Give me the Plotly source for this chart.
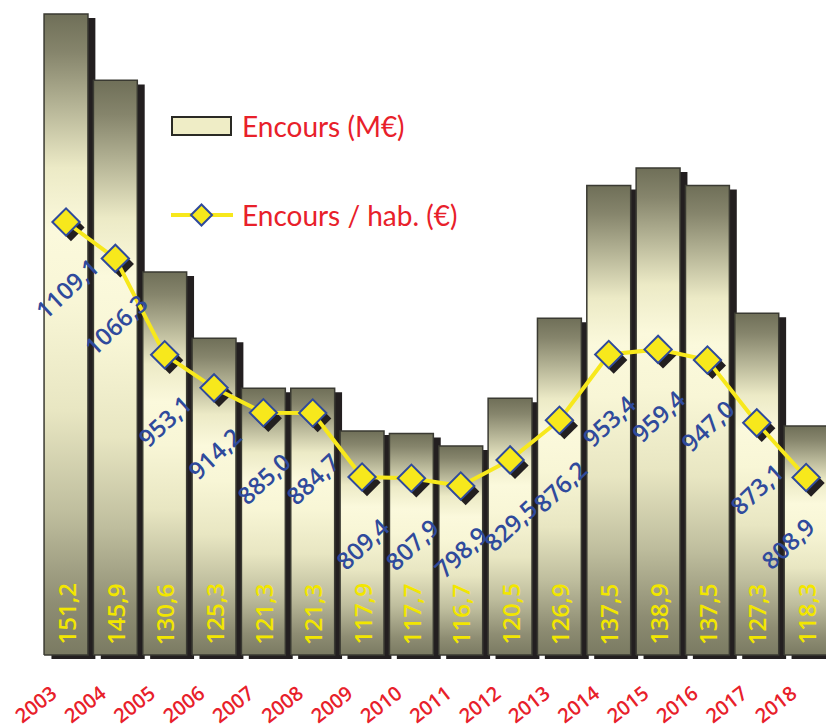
import plotly.graph_objects as go

years = ["2003", "2004", "2005", "2006", "2007", "2008", "2009", "2010",
         "2011", "2012", "2013", "2014", "2015", "2016", "2017", "2018"]
encours = [151.2, 145.9, 130.6, 125.3, 121.3, 121.3, 117.9, 117.7,
           116.7, 120.5, 126.9, 137.5, 138.9, 137.5, 127.3, 118.3]
par_hab = [1109.1, 1066.3, 953.1, 914.2, 885.0, 884.7, 809.4, 807.9,
           798.9, 829.5, 876.2, 953.4, 959.4, 947.0, 873.1, 808.9]

def fr(v):
    return f"{v:.1f}".replace(".", ",")

FIG_W, FIG_H = 826, 728
PL, PB = 0, 661          # plot left / bottom in figure px
PW, PH = FIG_W - PL, PB  # plot width / height

Y_MIN, Y_MAX = 99.52, 152.32
Y2_MIN, Y2_MAX = 593.2, 1370.0
X_MIN, X_MAX = -1.338, 15.403
BASE = 100.0
W = 0.89
SH_DX, SH_DY = 0.15, 0.32   # bar shadow offset (data units)
MS_DX, MS_DY = 0.10, 6.5    # marker shadow offset

bar_scale = [[0.0, "#7a7a62"], [0.08, "#8e8d73"], [0.22, "#bebd9d"],
             [0.38, "#e8e6c2"], [0.55, "#f8f6d6"], [0.66, "#fbf9dc"],
             [0.76, "#eceac6"], [0.86, "#b3b294"], [0.94, "#86856c"],
             [1.0, "#6f6f58"]]

fig = go.Figure()
xs = list(range(len(years)))

# shadows
for i, v in zip(xs, encours):
    x0, x1 = i - W / 2 + SH_DX, i + W / 2 + SH_DX
    fig.add_trace(go.Scatter(
        x=[x0, x1, x1, x0, x0],
        y=[BASE - SH_DY, BASE - SH_DY, v - SH_DY, v - SH_DY, BASE - SH_DY],
        fill="toself", fillcolor="#231f20", mode="lines",
        line=dict(width=0, color="#231f20"), hoverinfo="skip", showlegend=False))

# gradient bars
for i, v in zip(xs, encours):
    x0, x1 = i - W / 2, i + W / 2
    fig.add_trace(go.Scatter(
        x=[x0, x1, x1, x0, x0], y=[BASE, BASE, v, v, BASE],
        fill="toself", mode="lines",
        fillgradient=dict(type="vertical", colorscale=bar_scale),
        line=dict(width=1.5, color="#3a3a32"),
        name="Encours (M€)", showlegend=False, hoverinfo="skip"))

# line marker shadows
fig.add_trace(go.Scatter(
    x=[i + MS_DX for i in xs], y=[v - MS_DY for v in par_hab], yaxis="y2",
    mode="markers", marker=dict(symbol="diamond", size=21, color="#231f20"),
    hoverinfo="skip", showlegend=False))

fig.add_trace(go.Scatter(
    x=xs, y=par_hab, yaxis="y2", mode="lines+markers",
    line=dict(color="#f7e81c", width=4),
    marker=dict(symbol="diamond", size=21, color="#f7e81c",
                line=dict(color="#2f4a9c", width=2)),
    name="Encours / hab. (€)", showlegend=False))

annotations = []
for i, v in zip(xs, encours):
    annotations.append(dict(x=i, y=BASE, xref="x", yref="y", text=fr(v),
                            showarrow=False, textangle=-90, yanchor="bottom",
                            xanchor="center", yshift=8,
                            font=dict(family="Open Sans", size=24, color="#f2e600", weight=600)))
last = len(xs) - 1
for i, v in zip(xs, par_hab):
    annotations.append(dict(x=i, y=v, xref="x", yref="y2", text=fr(v),
                            showarrow=False, textangle=-43, yanchor="middle",
                            xanchor="center", yshift=-66,
                            xshift=(-19 if i == last else 0),
                            font=dict(family="Open Sans", size=24, color="#2f4a9c", weight=600)))

# manual legend (page coordinates converted to paper)
def px(x):
    return (x - PL) / PW
def py(y):
    return (PB - y) / PH

shapes = [
    dict(type="rect", xref="paper", yref="paper", x0=px(172), x1=px(231), y0=py(135), y1=py(117),
         fillcolor="#efedc6", line=dict(color="#2a2a24", width=2), layer="above"),
    dict(type="line", xref="paper", yref="paper", x0=px(171), x1=px(233), y0=py(215), y1=py(215),
         line=dict(color="#f7e81c", width=4), layer="above"),
    dict(type="path", xref="paper", yref="paper",
         path=f"M {px(191)} {py(215)} L {px(201.5)} {py(204.5)} L {px(212)} {py(215)} L {px(201.5)} {py(225.5)} Z",
         fillcolor="#f7e81c", line=dict(color="#2f4a9c", width=2), layer="above"),
]
annotations.append(dict(x=px(240), y=py(126), xref="paper", yref="paper", text="Encours (M€)",
                        showarrow=False, xanchor="left", yanchor="middle",
                        font=dict(family="Lato", size=28, color="#e8202a")))
annotations.append(dict(x=px(240), y=py(215), xref="paper", yref="paper", text="Encours / hab. (€)",
                        showarrow=False, xanchor="left", yanchor="middle",
                        font=dict(family="Lato", size=28, color="#e8202a")))

fig.update_layout(
    width=FIG_W, height=FIG_H,
    margin=dict(l=PL, r=0, t=0, b=FIG_H - PB, autoexpand=False),
    paper_bgcolor="white", plot_bgcolor="white",
    showlegend=False,
    xaxis=dict(range=[X_MIN, X_MAX], tickmode="array", tickvals=xs, ticktext=years,
               tickangle=-38, showgrid=False, zeroline=False, showline=False,
               ticks="", ticklabelstandoff=16, ticklabelshift=-14, automargin=False,
               tickfont=dict(family="Open Sans", size=20, color="#e8202a", weight=600)),
    yaxis=dict(range=[Y_MIN, Y_MAX], visible=False, showgrid=False, zeroline=False),
    yaxis2=dict(range=[Y2_MIN, Y2_MAX], overlaying="y", side="right", visible=False,
                showgrid=False, zeroline=False),
    annotations=annotations, shapes=shapes,
)

fig.write_html("out.html", config={"displayModeBar": False},
               post_script="document.body.style.margin='0';document.body.style.overflow='hidden';")
